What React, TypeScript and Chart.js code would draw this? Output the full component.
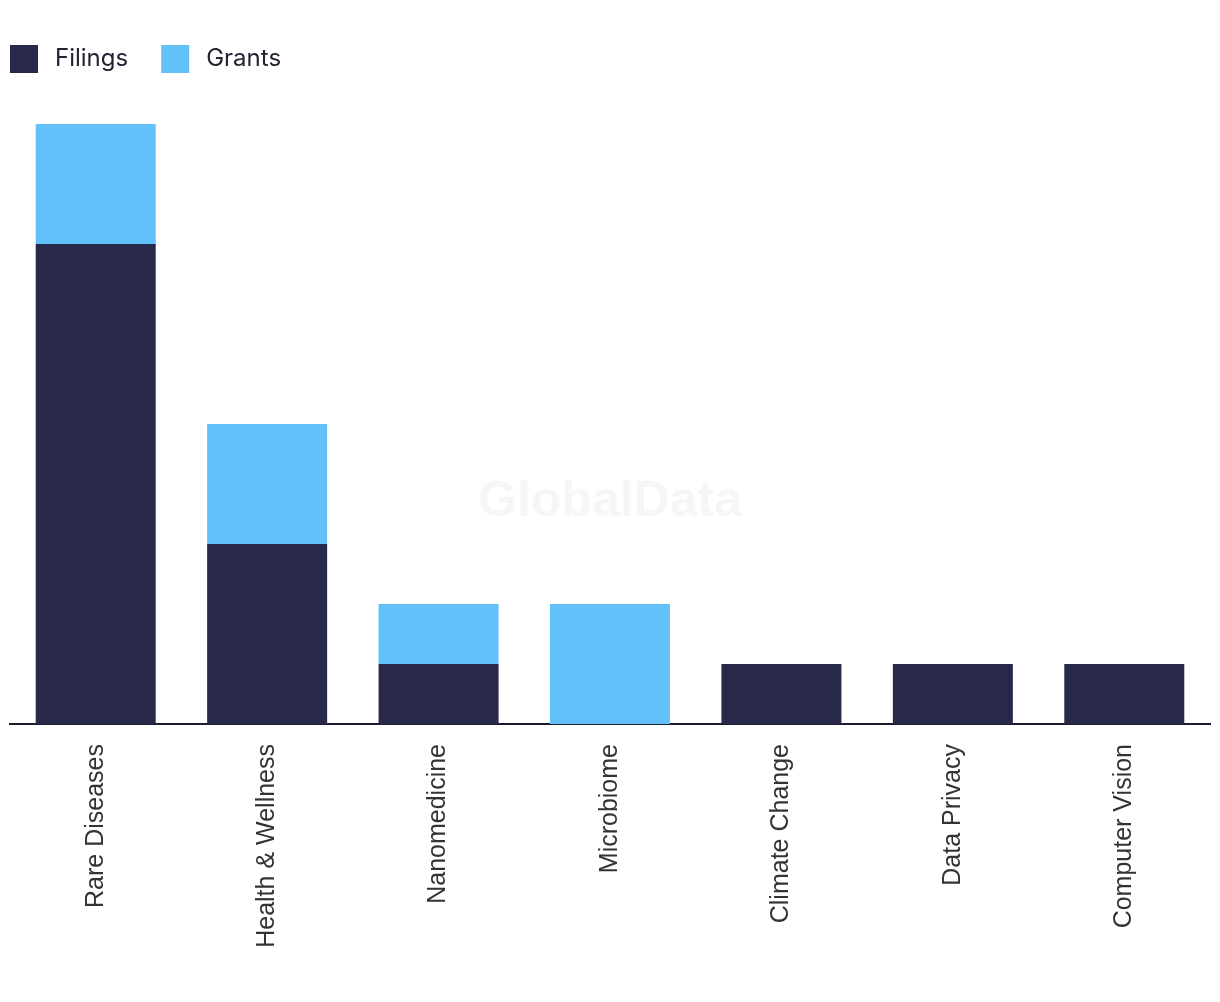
import React, { useEffect, useRef } from "react";
import { Chart, registerables } from "chart.js";

Chart.register(...registerables);

const categories = [
  "Rare Diseases",
  "Health & Wellness",
  "Nanomedicine",
  "Microbiome",
  "Climate Change",
  "Data Privacy",
  "Computer Vision",
];
const filings = [8, 3, 1, 0, 1, 1, 1];
const grants = [2, 2, 1, 2, 0, 0, 0];
const seriesNames = ["Filings", "Grants"];
const seriesColors = ["#27284a", "#62c1f9"];

const legendPlugin = {
  id: "customLegend",
  afterDraw(chart: any) {
    const ctx = chart.ctx;
    ctx.save();
    let x = 10;
    const y = 45;
    ctx.font = "24px Inter, 'Noto Sans', sans-serif";
    ctx.textBaseline = "middle";
    ctx.textAlign = "left";
    chart.data.datasets.forEach((ds: any) => {
      ctx.fillStyle = ds.backgroundColor;
      ctx.fillRect(x, y, 28, 28);
      ctx.fillStyle = "#222233";
      ctx.fillText(ds.label, x + 45, y + 14);
      x += 45 + ctx.measureText(ds.label).width + 33;
    });
    ctx.restore();
  },
};

const watermarkPlugin = {
  id: "watermark",
  beforeDatasetsDraw(chart: any) {
    const ctx = chart.ctx;
    ctx.save();
    ctx.font = "bold 50px 'Liberation Sans', Arial, sans-serif";
    ctx.fillStyle = "#f6f6f6";
    ctx.textAlign = "center";
    ctx.textBaseline = "middle";
    ctx.fillText("GlobalData", 610, 502);
    ctx.restore();
  },
};

export default function App() {
  const ref = useRef<HTMLCanvasElement | null>(null);
  useEffect(() => {
    if (!ref.current) return;
    const chart = new Chart(ref.current, {
      type: "bar",
      data: {
        labels: categories,
        datasets: [
          { label: seriesNames[0], data: filings, backgroundColor: seriesColors[0] },
          { label: seriesNames[1], data: grants, backgroundColor: seriesColors[1] },
        ],
      },
      options: {
        animation: false,
        responsive: true,
        maintainAspectRatio: false,
        layout: { padding: { top: 124, left: 10, right: 10, bottom: 0 } },
        datasets: { bar: { categoryPercentage: 1, barPercentage: 0.7 } },
        plugins: { legend: { display: false }, tooltip: { enabled: false } },
        scales: {
          x: {
            stacked: true,
            grid: { display: false, drawTicks: false },
            border: { display: true, color: "#1c1c2e", width: 2 },
            ticks: {
              minRotation: 90,
              maxRotation: 90,
              padding: 20,
              color: "#333333",
              font: { family: "'Liberation Sans', Arial, sans-serif", size: 25 },
            },
            afterFit: (scale: any) => {
              scale.height = 278;
            },
          },
          y: {
            stacked: true,
            display: false,
            min: 0,
            max: 10,
          },
        },
      },
      plugins: [watermarkPlugin, legendPlugin],
    });
    return () => chart.destroy();
  }, []);
  return (
    <div style={{ position: "fixed", left: 0, top: 0, width: 1220, height: 1002, background: "#fff" }}>
      <canvas ref={ref} />
    </div>
  );
}
